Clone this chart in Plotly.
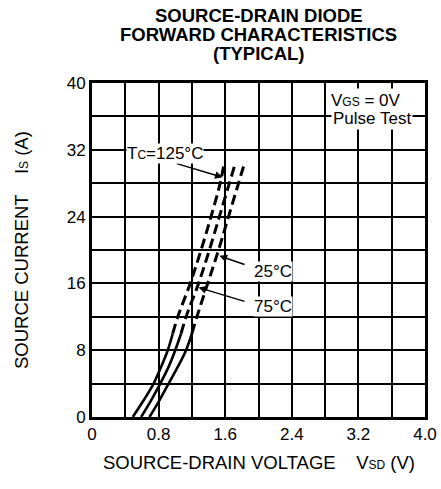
import plotly.graph_objects as go

# Source current levels (A)
current = [0, 2, 4, 6, 8, 10, 12, 16, 20, 24, 28, 30]
# Source-drain voltage (V) for each case temperature
vsd_125 = [0.49, 0.62, 0.74, 0.83, 0.91, 0.97, 1.03, 1.18, 1.31, 1.43, 1.54, 1.58]
vsd_75 = [0.59, 0.71, 0.82, 0.92, 1.00, 1.07, 1.13, 1.28, 1.41, 1.53, 1.65, 1.71]
vsd_25 = [0.69, 0.81, 0.92, 1.03, 1.13, 1.20, 1.26, 1.39, 1.52, 1.64, 1.76, 1.82]
solid_end = 5  # index of last point drawn solid (10 A)

x_grid = [0, 0.4, 0.8, 1.2, 1.6, 2.0, 2.4, 2.8, 3.2, 3.6, 4.0]
x_labels = ["0", "", "0.8", "", "1.6", "", "2.4", "", "3.2", "", "4.0"]
y_grid = [0, 4, 8, 12, 16, 20, 24, 28, 32, 36, 40]
y_labels = ["0", "", "8", "", "16", "", "24", "", "32", "", "40"]

title_lines = ["SOURCE-DRAIN DIODE", "FORWARD CHARACTERISTICS", "(TYPICAL)"]

FONT = "Liberation Sans, Arial, Helvetica, sans-serif"
PLOT_H = 334.0

fig = go.Figure()
for v in (vsd_125, vsd_75, vsd_25):
    fig.add_trace(go.Scatter(x=v[:solid_end + 1], y=current[:solid_end + 1], mode="lines",
                             line=dict(color="black", width=2.6, shape="spline"),
                             showlegend=False, hoverinfo="skip"))
    fig.add_trace(go.Scatter(x=v[solid_end:], y=current[solid_end:], mode="lines",
                             line=dict(color="black", width=3, dash="10px,5px", shape="spline"),
                             showlegend=False, hoverinfo="skip"))

annos = []
# arrows (head at curve, tail at label)
for (hx, hy, tx, ty) in [(1.57, 28.7, 1.0, 30.4), (1.53, 19.3, 1.85, 18.2), (1.28, 15.5, 1.85, 13.8)]:
    annos.append(dict(x=hx, y=hy, ax=tx, ay=ty, xref="x", yref="y", axref="x", ayref="y",
                      text="", showarrow=True, arrowhead=2, arrowsize=1.1, arrowwidth=1.4,
                      arrowcolor="black"))
small = "<span style='font-size:12px'>%s</span>"
annos += [
    dict(x=0.88, y=31.5, text="T" + small % "C" + "=125°C", showarrow=False,
         bgcolor="white", borderpad=0, font=dict(size=17)),
    dict(x=2.17, y=17.4, text="25°C", showarrow=False, bgcolor="white", borderpad=0,
         font=dict(size=17)),
    dict(x=2.17, y=13.2, text="75°C", showarrow=False, bgcolor="white", borderpad=0,
         font=dict(size=17)),
    dict(x=3.29, y=37.9, text="V" + small % "GS" + " = 0V", showarrow=False,
         bgcolor="white", borderpad=2, font=dict(size=17)),
    dict(x=3.36, y=35.7, text="Pulse Test", showarrow=False,
         bgcolor="white", borderpad=1, font=dict(size=17)),
    dict(x=0.5, y=-0.135, xref="paper", yref="paper", showarrow=False, xanchor="center",
         yanchor="middle",
         text="SOURCE-DRAIN VOLTAGE    V" + small % "SD" + " (V)", font=dict(size=18.5)),
    dict(x=-0.213, y=0.5, xref="paper", yref="paper", showarrow=False, textangle=-90,
         xanchor="center", yanchor="middle",
         text="SOURCE CURRENT    I" + small % "S" + " (A)", font=dict(size=18.5)),
]
# title lines, offsets above the plot top (px): 67, 49, 30
for line, dpx in zip(title_lines, [67, 49, 30]):
    annos.append(dict(x=0.5, y=1 + dpx / PLOT_H, xref="paper", yref="paper",
                      showarrow=False, xanchor="center", yanchor="middle",
                      text="<b>%s</b>" % line, font=dict(size=18.5)))

fig.update_layout(
    width=441, height=489,
    margin=dict(l=92, r=16, t=83, b=72, autoexpand=False),
    paper_bgcolor="white", plot_bgcolor="white",
    font=dict(family=FONT, color="black", size=17),
    annotations=annos,
)
fig.update_xaxes(range=[0, 4.0], tickvals=x_grid, ticktext=x_labels, showgrid=True,
                 gridcolor="black", gridwidth=2, showline=True, linecolor="black",
                 linewidth=3, mirror=True, zeroline=False, ticks="", tickfont=dict(size=17))
fig.update_yaxes(range=[0, 40], tickvals=y_grid, ticktext=y_labels, showgrid=True,
                 gridcolor="black", gridwidth=2, showline=True, linecolor="black",
                 linewidth=3, mirror=True, zeroline=False, ticks="", tickfont=dict(size=17))

fig.write_html("out.html", config={"displayModeBar": False},
               post_script="document.body.style.margin='0px';")
